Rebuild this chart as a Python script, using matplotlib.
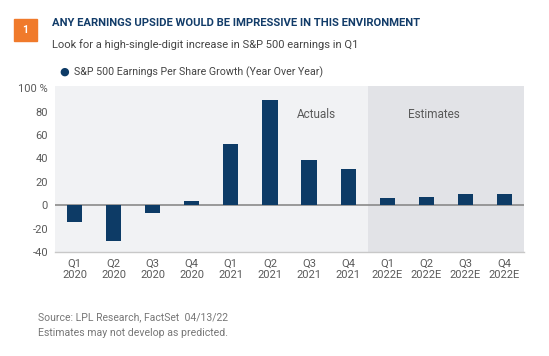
import matplotlib.pyplot as plt
import matplotlib.patches as mpatches

# data
quarters = ["Q1\n2020", "Q2\n2020", "Q3\n2020", "Q4\n2020",
            "Q1\n2021", "Q2\n2021", "Q3\n2021", "Q4\n2021",
            "Q1\n2022E", "Q2\n2022E", "Q3\n2022E", "Q4\n2022E"]
eps_growth = [-14, -31, -7, 4, 52, 90, 39, 31, 6, 7, 10, 10]
n_actual = 8
y_ticks = [-40, -20, 0, 20, 40, 60, 80, 100]
y_labels = ["-40", "-20", "0", "20", "40", "60", "80", "100 %"]

NAVY = "#0d3b66"
GREY_TXT = "#5a5a5a"

plt.rcParams["font.family"] = ["Roboto", "DejaVu Sans"]

fig = plt.figure(figsize=(5.49, 3.56), dpi=100)
W, H = 549, 356
ax = fig.add_axes([55 / W, 1 - 252 / H, (524 - 55) / W, (252 - 86) / H])

xs = list(range(len(eps_growth)))
ax.set_xlim(-0.5, len(xs) - 0.5)
ax.set_ylim(-40, 102)

# background shading
ax.axvspan(-0.5, n_actual - 0.5, color="#f1f2f4", zorder=0, lw=0)
ax.axvspan(n_actual - 0.5, len(xs) - 0.5, color="#e2e3e7", zorder=0, lw=0)

ax.bar(xs, eps_growth, width=0.39, color=NAVY, zorder=3)
ax.axhline(0, color="#8a8a8a", lw=1.2, zorder=2)

for s in ["top", "right", "left"]:
    ax.spines[s].set_visible(False)
ax.spines["bottom"].set_color("#c8c8c8")
ax.spines["bottom"].set_linewidth(1.0)

ax.set_xticks(xs)
ax.set_xticklabels(quarters, fontsize=8, color=GREY_TXT, linespacing=1.15)
ax.set_yticks(y_ticks)
ax.set_yticklabels(y_labels, fontsize=8, color=GREY_TXT)
ax.tick_params(axis="both", length=0, pad=5)

ax.text(6.2, 78, "Actuals", fontsize=8.5, color=GREY_TXT,
        ha="center", va="center")
ax.text(9.2, 78, "Estimates", fontsize=8.5,
        color=GREY_TXT, ha="center", va="center")

# header
fig.patches.append(mpatches.Rectangle((13.5 / W, 1 - 41 / H), 23 / W, 22 / H,
                                      transform=fig.transFigure, color="#f07a2b"))
fig.text(25 / W, 1 - 30 / H, "1", color="white", fontsize=7.5, fontweight="bold",
         ha="center", va="center")
fig.text(52 / W, 1 - 23.5 / H, "ANY EARNINGS UPSIDE WOULD BE IMPRESSIVE IN THIS ENVIRONMENT",
         color="#123c69", fontsize=8.1, fontweight="bold", va="center")
fig.text(52 / W, 1 - 44.5 / H, "Look for a high-single-digit increase in S&P 500 earnings in Q1",
         color="#444444", fontsize=8.0, va="center")

# legend
fig.text(64 / W, 1 - 72 / H, "\u25CF", color=NAVY, fontsize=8, ha="center", va="center")
fig.text(74 / W, 1 - 72 / H, "S&P 500 Earnings Per Share Growth (Year Over Year)",
         color="#444444", fontsize=7.7, va="center")

# footer
fig.text(37.5 / W, 1 - 317 / H, "Source: LPL Research, FactSet  04/13/22",
         color="#777777", fontsize=7.5, va="center")
fig.text(37.5 / W, 1 - 333.5 / H, "Estimates may not develop as predicted.",
         color="#777777", fontsize=7.6, va="center")

fig.savefig("out.png", dpi=100)
